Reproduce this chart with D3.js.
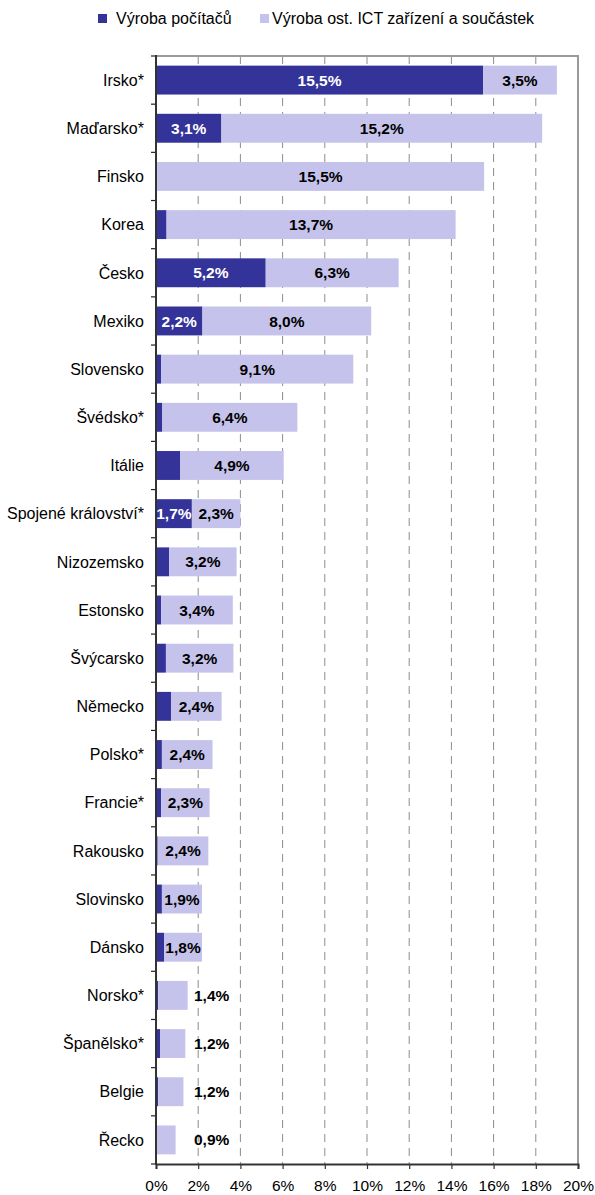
<!DOCTYPE html>
<html>
<head>
<meta charset="utf-8">
<script src="https://cdn.jsdelivr.net/npm/d3@7"></script>
<style>
  body { margin: 0; background: #fff; }
  svg text { font-family: "Liberation Sans", Arial, sans-serif; }
</style>
</head>
<body>
<div id="d3-container"></div>
<script>
// data
const countries = ["Irsko*", "Maďarsko*", "Finsko", "Korea", "Česko", "Mexiko", "Slovensko",
  "Švédsko*", "Itálie", "Spojené království*", "Nizozemsko", "Estonsko", "Švýcarsko",
  "Německo", "Polsko*", "Francie*", "Rakousko", "Slovinsko", "Dánsko", "Norsko*",
  "Španělsko*", "Belgie", "Řecko"];
const computers = [15.5, 3.1, 0.05, 0.5, 5.2, 2.2, 0.25, 0.3, 1.15, 1.7, 0.62, 0.24, 0.47,
  0.71, 0.28, 0.24, 0.08, 0.28, 0.38, 0.1, 0.19, 0.1, 0.03];
const otherIct = [3.5, 15.2, 15.5, 13.7, 6.3, 8.0, 9.1, 6.4, 4.9, 2.3, 3.2, 3.4, 3.2,
  2.4, 2.4, 2.3, 2.4, 1.9, 1.8, 1.4, 1.2, 1.2, 0.9];
const seriesNames = ["Výroba počítačů", "Výroba ost. ICT zařízení a součástek"];
const xTicks = [0, 2, 4, 6, 8, 10, 12, 14, 16, 18, 20];

const width = 595,
  height = 1195,
  margin = { top: 56, bottom: 31, left: 156, right: 17 },
  colors = ["#333399", "#c5c3eb"],
  fmt = v => d3.format(".1f")(v).replace(".", ",") + "%";

const data = countries.map((c, i) => ({ country: c, a: computers[i], b: otherIct[i] }));

const yScale = d3.scaleBand()
  .domain(countries)
  .range([margin.top, height - margin.bottom])
  .paddingInner(0.4)
  .paddingOuter(0.2);
const xScale = d3.scaleLinear()
  .domain([0, 20])
  .range([margin.left, width - margin.right]);

const svg = d3.select("#d3-container")
  .append("svg")
  .attr("width", width)
  .attr("height", height);

// dashed grid
svg.append("g")
  .selectAll("line")
  .data(xTicks.slice(1, -1))
  .join("line")
  .attr("x1", d => xScale(d)).attr("x2", d => xScale(d))
  .attr("y1", margin.top).attr("y2", height - margin.bottom)
  .attr("stroke", "#8c8c8c")
  .attr("stroke-width", 1)
  .attr("stroke-dasharray", "8,6");

// top and right frame
svg.append("path")
  .attr("d", `M${margin.left},${margin.top}H${xScale(20)}V${height - margin.bottom}`)
  .attr("fill", "none")
  .attr("stroke", "#9a9a9a")
  .attr("stroke-width", 2);

// bars
const rows = svg.append("g")
  .selectAll("g")
  .data(data)
  .join("g")
  .attr("transform", d => `translate(0,${yScale(d.country)})`);

rows.append("rect")
  .attr("x", xScale(0))
  .attr("width", d => xScale(d.a) - xScale(0))
  .attr("height", yScale.bandwidth())
  .attr("fill", colors[0]);
rows.append("rect")
  .attr("x", d => xScale(d.a))
  .attr("width", d => xScale(d.a + d.b) - xScale(d.a))
  .attr("height", yScale.bandwidth())
  .attr("fill", colors[1]);

// value labels
rows.filter(d => d.a >= 1.5)
  .append("text")
  .attr("x", d => (xScale(0) + xScale(d.a)) / 2)
  .attr("y", yScale.bandwidth() / 2)
  .attr("dy", "0.36em")
  .attr("text-anchor", "middle")
  .attr("fill", "#fff")
  .attr("font-weight", "bold")
  .attr("font-size", "15.5px")
  .text(d => fmt(d.a));
rows.append("text")
  .attr("x", d => d.b < 1.5 ? xScale(1.8) : (xScale(d.a) + xScale(d.a + d.b)) / 2)
  .attr("y", yScale.bandwidth() / 2)
  .attr("dy", "0.36em")
  .attr("text-anchor", d => d.b < 1.5 ? "start" : "middle")
  .attr("fill", "#000")
  .attr("font-weight", "bold")
  .attr("font-size", "15.5px")
  .text(d => fmt(d.b));

// left axis: ticks between categories
const step = yScale.step();
svg.append("g")
  .selectAll("line")
  .data(d3.range(countries.length + 1))
  .join("line")
  .attr("x1", margin.left - 5).attr("x2", margin.left)
  .attr("y1", i => margin.top + i * step).attr("y2", i => margin.top + i * step)
  .attr("stroke", "#222").attr("stroke-width", 1.2);
svg.append("g")
  .selectAll("text")
  .data(countries)
  .join("text")
  .attr("x", margin.left - 12)
  .attr("y", d => yScale(d) + yScale.bandwidth() / 2)
  .attr("dy", "0.36em")
  .attr("text-anchor", "end")
  .attr("font-size", "16px")
  .attr("fill", "#000")
  .text(d => d);
svg.append("line")
  .attr("x1", margin.left).attr("x2", margin.left)
  .attr("y1", margin.top - 1).attr("y2", height - margin.bottom + 1)
  .attr("stroke", "#333").attr("stroke-width", 2);

// bottom axis
const xAxis = d3.axisBottom(xScale)
  .tickValues(xTicks)
  .tickSize(5)
  .tickPadding(11)
  .tickFormat(d => d + "%");
const gx = svg.append("g")
  .attr("transform", `translate(0,${height - margin.bottom})`)
  .call(xAxis);
gx.select(".domain").attr("stroke", "#333").attr("stroke-width", 2);
gx.selectAll(".tick line").attr("stroke", "#333").attr("stroke-width", 1.2);
gx.selectAll(".tick text")
  .attr("font-size", "15.5px")
  .attr("font-family", "Liberation Sans, Arial, sans-serif")
  .attr("fill", "#000");

// legend
const legendX = [98, 260];
const legend = svg.append("g")
  .selectAll("g")
  .data(seriesNames)
  .join("g")
  .attr("transform", (d, i) => `translate(${legendX[i]},14)`);
legend.append("rect")
  .attr("width", 9).attr("height", 9)
  .attr("fill", (d, i) => colors[i]);
legend.append("text")
  .attr("x", (d, i) => i === 0 ? 18 : 12)
  .attr("y", 4.5)
  .attr("dy", "0.36em")
  .attr("font-size", "16px")
  .attr("fill", "#000")
  .text(d => d);
</script>
</body>
</html>
